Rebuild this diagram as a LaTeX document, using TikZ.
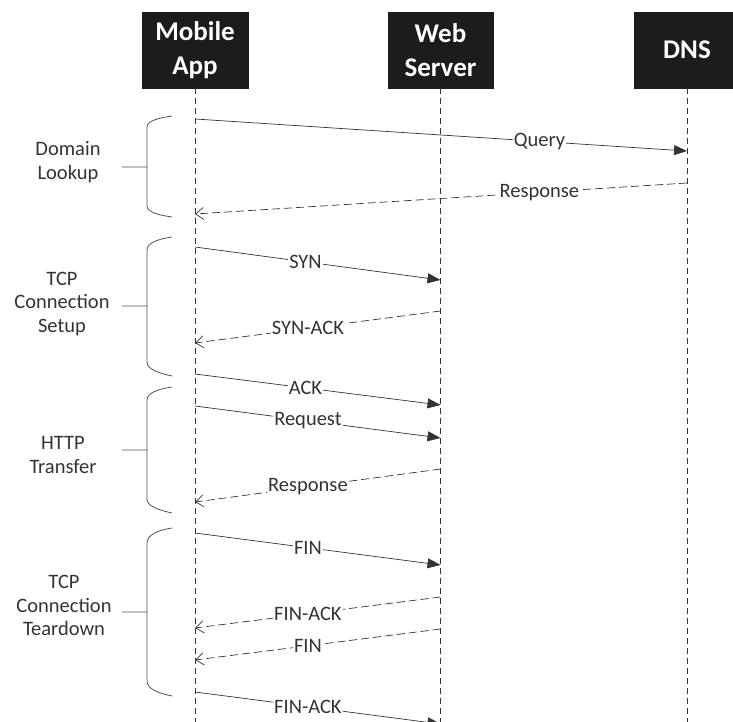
\documentclass[tikz,border=0pt]{standalone}
\usepackage{fontspec}
\setmainfont{Carlito}
\usetikzlibrary{arrows.meta}

\definecolor{ink}{HTML}{333333}
\definecolor{boxfill}{HTML}{1C1C1C}

\begin{document}
\begin{tikzpicture}[
x=1pt, y=-1pt,
actor/.style={
rectangle,
draw=boxfill,
fill=boxfill,
text=white,
minimum width=106pt,
minimum height=76pt,
align=center,
font=\fontsize{27}{34}\selectfont\bfseries
},
lifeline/.style={draw=ink, dash pattern=on 6pt off 4pt, line width=0.8pt},
call/.style={draw=ink, line width=0.7pt, -{Triangle[length=13pt,width=10pt]}},
reply/.style={draw=ink, line width=0.7pt, dash pattern=on 8pt off 4pt, -{Straight Barb[length=8pt,width=12pt]}},
msg/.style={fill=white, inner sep=1pt, text=ink, font=\fontsize{20.5}{24}\selectfont},
phase/.style={align=center, text=ink, font=\fontsize{20.5}{23.5}\selectfont},
bracket/.style={draw=ink!85, line width=0.8pt}
]
\clip (0,0) rectangle (733,722);

% Actors
\node[actor] (app) at (195,50) {Mobile\\App};
\node[actor,minimum width=105pt] (web) at (440.5,50) {Web\\Server};
\node[actor] (dns) at (687,50) {DNS};

% Lifelines
\draw[lifeline] (app.south) -- (app.south |- 0,722);
\draw[lifeline] (web.south) -- (web.south |- 0,722);
\draw[lifeline] (dns.south) -- (dns.south |- 0,722);

% Domain lookup
\draw[call] (app |- 0,119) -- node[msg,pos=.70]{Query} (dns |- 0,151);
\draw[reply] (dns |- 0,183) -- node[msg,pos=.30]{Response} (app |- 0,214);

% TCP setup
\draw[call] (app |- 0,247) -- node[msg,pos=.45]{SYN} (web |- 0,280);
\draw[reply] (web |- 0,311) -- node[msg,pos=.54]{SYN-ACK} (app |- 0,343);
\draw[call] (app |- 0,374) -- node[msg,pos=.45]{ACK} (web |- 0,405);

% HTTP transfer
\draw[call] (app |- 0,406) -- node[msg,pos=.46]{Request} (web |- 0,438);
\draw[reply] (web |- 0,469) -- node[msg,pos=.54]{Response} (app |- 0,502);

% TCP teardown
\draw[call] (app |- 0,533) -- node[msg,pos=.46]{FIN} (web |- 0,565);
\draw[reply] (web |- 0,597) -- node[msg,pos=.54]{FIN-ACK} (app |- 0,628);
\draw[reply] (web |- 0,629) -- node[msg,pos=.54]{FIN} (app |- 0,660);
\draw[call] (app |- 0,692) -- node[msg,pos=.46]{FIN-ACK} (web |- 0,724);

% Phase brackets
\draw[bracket] (172,116) .. controls (158,118) and (147,121) .. (147,127) -- (147,206)
  .. controls (147,212) and (158,215) .. (172,217) (122,167) -- (147,167);
\draw[bracket] (172,237) .. controls (158,239) and (147,243) .. (147,250) -- (147,362)
  .. controls (147,369) and (158,373) .. (172,376) (122,306) -- (147,306);
\draw[bracket] (172,387) .. controls (158,389) and (147,393) .. (147,400) -- (147,499)
  .. controls (147,506) and (158,510) .. (172,513) (122,450) -- (147,450);
\draw[bracket] (172,528) .. controls (158,530) and (147,535) .. (147,543) -- (147,681)
  .. controls (147,689) and (158,693) .. (172,696) (122,612) -- (147,612);

% Phase labels
\node[phase] (lookup) at (68,162) {Domain\\Lookup};
\node[phase] (setup) at (62,303.5) {TCP\\Connection\\Setup};
\node[phase] (transfer) at (63,455) {HTTP\\Transfer};
\node[phase] (teardown) at (64,605.5) {TCP\\Connection\\Teardown};

\end{tikzpicture}
\end{document}
